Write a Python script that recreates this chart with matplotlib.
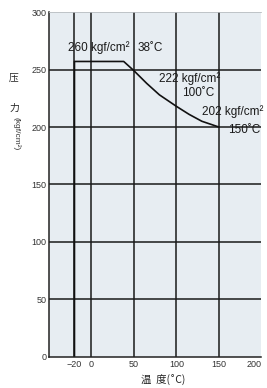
import matplotlib
matplotlib.use('Agg')
import matplotlib.pyplot as plt
from matplotlib import font_manager

# curve: pressure (kgf/cm2) against temperature (C)
temps = [-20, -20, 38, 50, 65, 80, 90, 100, 115, 130, 150]
pressures = [0, 257, 257, 249, 238, 228, 223, 218, 211, 205, 200]

x_ticks = [-20, 0, 50, 100, 150, 200]
y_ticks = [0, 50, 100, 150, 200, 250, 300]

names = {f.name for f in font_manager.fontManager.ttflist}
narrow = 'Liberation Sans Narrow' if 'Liberation Sans Narrow' in names else 'Liberation Sans'
cjk = ['Noto Sans CJK SC', 'DejaVu Sans']

fig = plt.figure(figsize=(2.67, 3.88), dpi=100)
ax = fig.add_axes([0.1835, 0.080, 0.795, 0.889])
ax.set_facecolor('#e7edf2')

ax.plot(temps, pressures, color='#111111', lw=1.2, solid_joinstyle='round')

ax.set_xlim(-50, 200)
ax.set_ylim(0, 300)
ax.set_xticks(x_ticks)
ax.set_yticks(y_ticks)
ax.set_xticklabels(['\u221220', '0', '50', '100', '150', '200'])
ax.tick_params(length=0, labelsize=6.5, colors='#333333', pad=2)
for lab in ax.get_xticklabels() + ax.get_yticklabels():
    lab.set_family(narrow)
# last label sits at the right edge of the figure
ax.get_xticklabels()[-1].set_horizontalalignment('right')

# grid lines only at the inner ticks
for xv in x_ticks[:-1]:
    ax.axvline(xv, color='#1a1a1a', lw=1.1, zorder=1)
for yv in y_ticks[1:-1]:
    ax.axhline(yv, color='#1a1a1a', lw=1.1, zorder=1)

ax.spines['left'].set_color('#222222')
ax.spines['bottom'].set_color('#222222')
ax.spines['left'].set_linewidth(1.1)
ax.spines['bottom'].set_linewidth(1.1)
ax.spines['top'].set_color('#b8bcc0')
ax.spines['top'].set_linewidth(0.6)
ax.spines['right'].set_visible(False)

tkw = dict(fontsize=8.5, family=narrow, color='#1a1a1a')
ax.text(-28, 269, '260 kgf/cm\u00b2', ha='left', va='center', **tkw)
ax.text(54, 269, '38\u02daC', ha='left', va='center', **tkw)
ax.text(80, 242, '222 kgf/cm\u00b2', ha='left', va='center', **tkw)
ax.text(107, 230, '100\u02daC', ha='left', va='center', **tkw)
ax.text(130, 213, '202 kgf/cm\u00b2', ha='left', va='center', **tkw)
ax.text(161, 197, '150\u02daC', ha='left', va='center', **tkw)

# axis titles
fig.text(163 / 267, 1 - 380 / 388, '温  度(\u02daC)', ha='center', va='center',
         fontsize=7.5, family=cjk, color='#222222')
fig.text(14 / 267, 1 - 78 / 388, '压', ha='center', va='center',
         fontsize=7, family=cjk, color='#222222')
fig.text(14 / 267, 1 - 108 / 388, '力', ha='center', va='center',
         fontsize=7, family=cjk, color='#222222')
fig.text(16 / 267, 1 - 134 / 388, '(kgf/cm\u00b2)', ha='center', va='center',
         rotation=-90, fontsize=6, family=narrow, color='#333333')

fig.savefig('out.png', dpi=100)
